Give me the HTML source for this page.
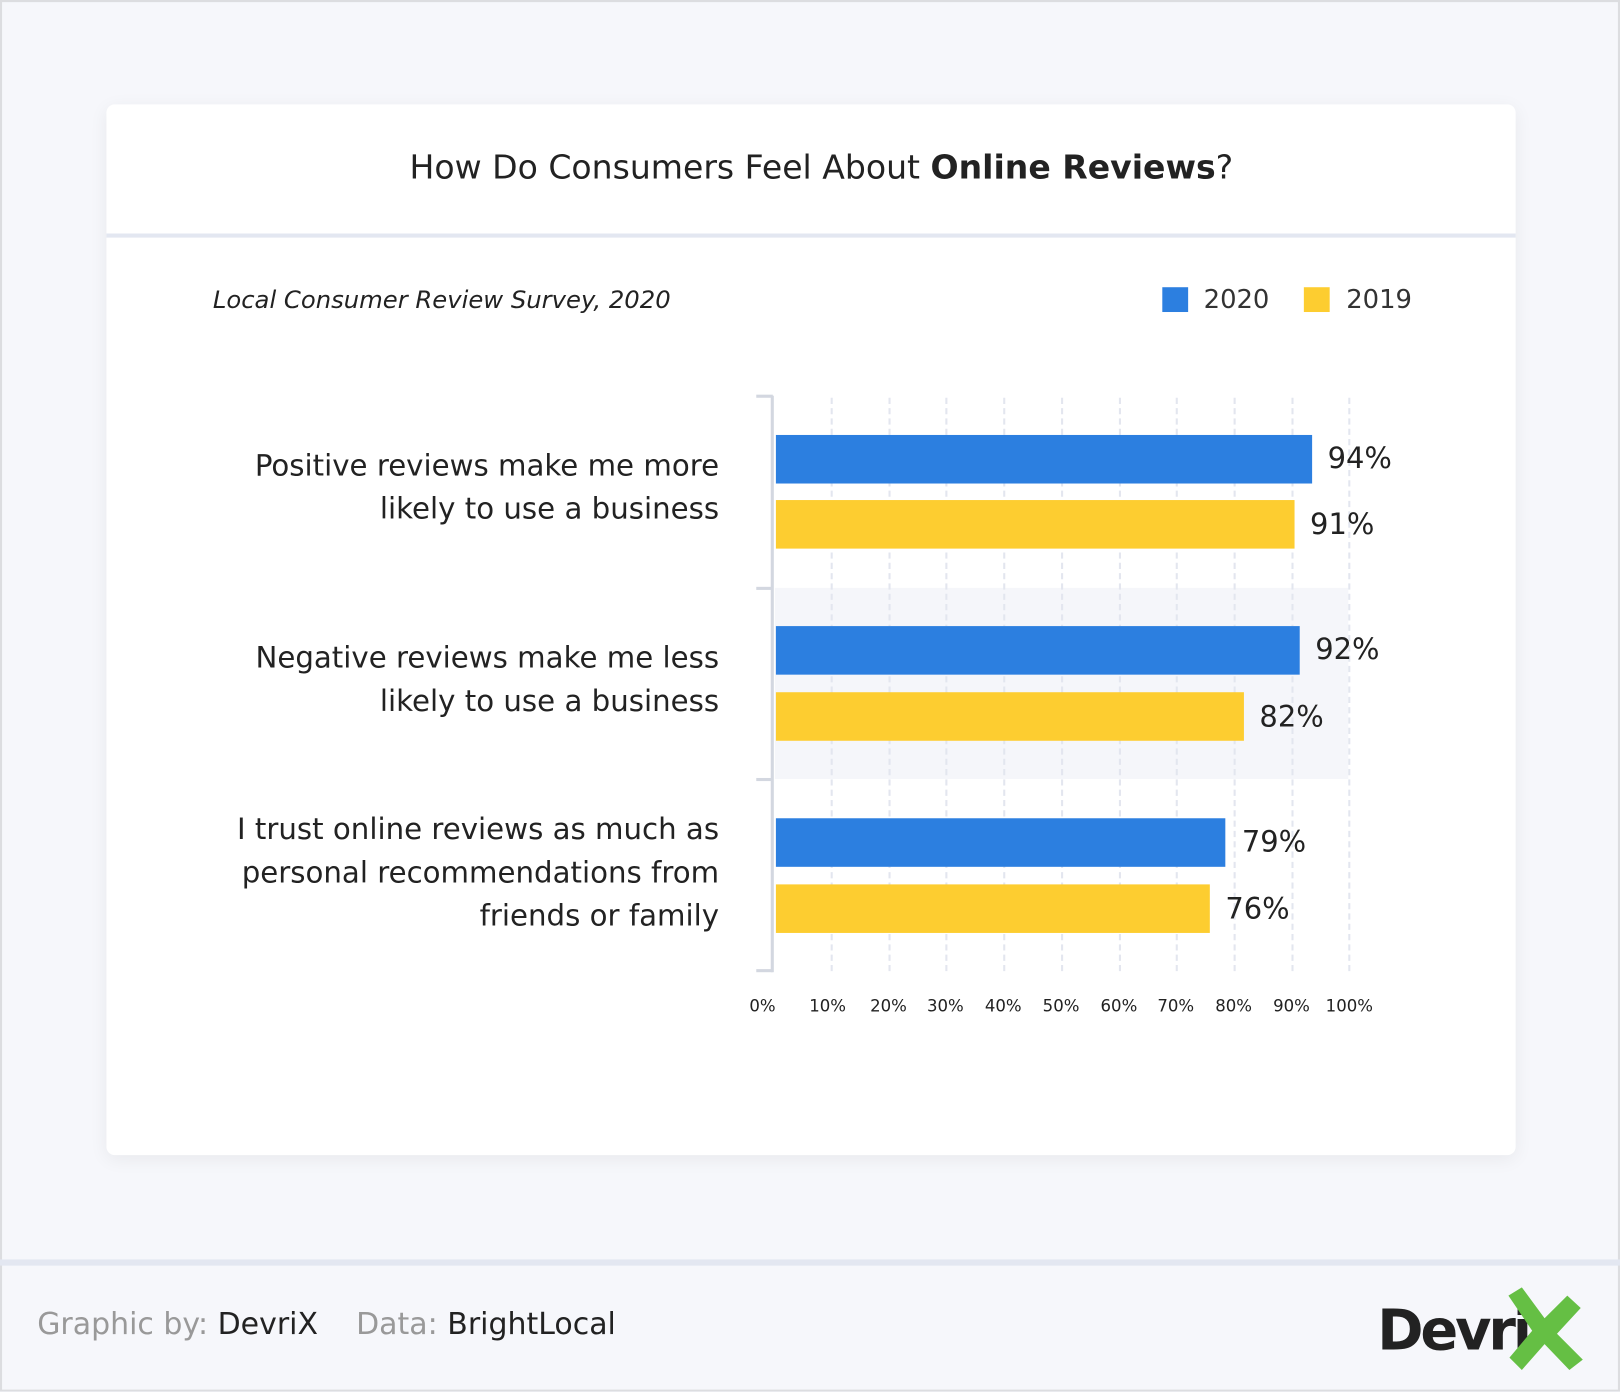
<!DOCTYPE html>
<html><head><meta charset="utf-8"><style>
*{margin:0;padding:0;box-sizing:border-box}
body{width:1620px;height:1392px;overflow:hidden;background:#f6f7fb;font-family:"Liberation Sans","DejaVu Sans",sans-serif}
#s{position:absolute;left:0;top:0;width:1568px;height:1347px;transform:scale(1.03316);transform-origin:0 0;box-shadow:inset 0 0 0 2px #dcdde0;background:#f6f7fb}
.a{position:absolute;white-space:nowrap}
.card{position:absolute;left:103px;top:101px;width:1364px;height:1017px;background:#fff;border-radius:8px;box-shadow:0 4px 18px rgba(0,0,0,.06)}
.bar{position:absolute;left:751px;height:47px}
.b{background:#2c7fe0}.y{background:#fdcd30}
.v{position:absolute;font-size:28px;color:#222;font-family:"DejaVu Sans",sans-serif;line-height:47px}
.g{position:absolute;top:385px;height:555px;border-left:2px dashed #e3e6ef}
.t{position:absolute;top:964px;font-size:16px;color:#222;font-family:"DejaVu Sans",sans-serif;transform:translateX(-50%)}
.cat{position:absolute;right:872px;text-align:right;font-size:28.3px;line-height:42px;color:#222;font-family:"DejaVu Sans",sans-serif}
</style></head><body><div id="s">
<div class="card"></div>
<div class="a" style="left:0;width:1590px;top:143px;text-align:center;font-size:32px;color:#222;font-family:'DejaVu Sans',sans-serif">How Do Consumers Feel About <b>Online Reviews</b>?</div>
<div class="a" style="left:103px;top:226px;width:1364px;height:4px;background:#e3e7f1"></div>
<div class="a" style="left:206px;top:276px;font-size:23.5px;font-style:italic;color:#222;font-family:'DejaVu Sans',sans-serif">Local Consumer Review Survey, 2020</div>
<div class="a" style="left:1125px;top:278px;width:25px;height:24px;background:#2c7fe0"></div>
<div class="a" style="left:1165px;top:275px;font-size:25px;color:#333;font-family:'DejaVu Sans',sans-serif">2020</div>
<div class="a" style="left:1262px;top:278px;width:25px;height:24px;background:#fdcd30"></div>
<div class="a" style="left:1303px;top:275px;font-size:25px;color:#333;font-family:'DejaVu Sans',sans-serif">2019</div>
<div class="a" style="left:750px;top:569px;width:555px;height:185px;background:#f5f6fa"></div>
<div class="g" style="left:804px"></div><div class="g" style="left:860px"></div><div class="g" style="left:915px"></div><div class="g" style="left:971px"></div><div class="g" style="left:1027px"></div><div class="g" style="left:1083px"></div><div class="g" style="left:1138px"></div><div class="g" style="left:1194px"></div><div class="g" style="left:1250px"></div><div class="g" style="left:1305px"></div>
<div class="a" style="left:746px;top:383px;width:3px;height:558px;background:#d3d7e0"></div>
<div class="a" style="left:732px;top:382px;width:16px;height:3px;background:#d3d7e0"></div>
<div class="a" style="left:732px;top:568px;width:16px;height:3px;background:#d3d7e0"></div>
<div class="a" style="left:732px;top:753px;width:16px;height:3px;background:#d3d7e0"></div>
<div class="a" style="left:732px;top:938px;width:16px;height:3px;background:#d3d7e0"></div>
<div class="bar b" style="top:421px;width:519px"></div><div class="v" style="left:1285px;top:420px">94%</div>
<div class="bar y" style="top:484px;width:502px"></div><div class="v" style="left:1268px;top:484px">91%</div>
<div class="bar b" style="top:606px;width:507px"></div><div class="v" style="left:1273px;top:605px">92%</div>
<div class="bar y" style="top:670px;width:453px"></div><div class="v" style="left:1219px;top:670px">82%</div>
<div class="bar b" style="top:792px;width:435px"></div><div class="v" style="left:1202px;top:791px">79%</div>
<div class="bar y" style="top:856px;width:420px"></div><div class="v" style="left:1186px;top:856px">76%</div>
<div class="cat" style="top:430px">Positive reviews make me more<br>likely to use a business</div>
<div class="cat" style="top:616px">Negative reviews make me less<br>likely to use a business</div>
<div class="cat" style="top:782px">I trust online reviews as much as<br>personal recommendations from<br>friends or family</div>
<div class="t" style="left:738px">0%</div><div class="t" style="left:801px">10%</div><div class="t" style="left:860px">20%</div><div class="t" style="left:915px">30%</div><div class="t" style="left:971px">40%</div><div class="t" style="left:1027px">50%</div><div class="t" style="left:1083px">60%</div><div class="t" style="left:1138px">70%</div><div class="t" style="left:1194px">80%</div><div class="t" style="left:1250px">90%</div><div class="t" style="left:1306px">100%</div>
<div class="a" style="left:0;top:1219px;width:1568px;height:6px;background:#e3e7f1"></div>
<div class="a" style="left:36px;top:1264px;font-size:29px;color:#999;font-family:'DejaVu Sans',sans-serif">Graphic by: <span style="color:#222">DevriX</span>&nbsp;&nbsp;&nbsp;&nbsp;Data: <span style="color:#222">BrightLocal</span></div>
<div class="a" style="left:1333px;top:1256px;font-size:54px;font-weight:bold;color:#222;font-family:'DejaVu Sans',sans-serif;letter-spacing:-3px">Devri</div>
<svg class="a" style="left:1455px;top:1246px" width="80" height="82" viewBox="0 0 80 82"><polygon points="5,8 18,0 40,30 62,8 75,20 52,45 77,70 64,80 40,55 18,80 6,68 28,42" fill="#65bf44"/></svg>
</div></body></html>
